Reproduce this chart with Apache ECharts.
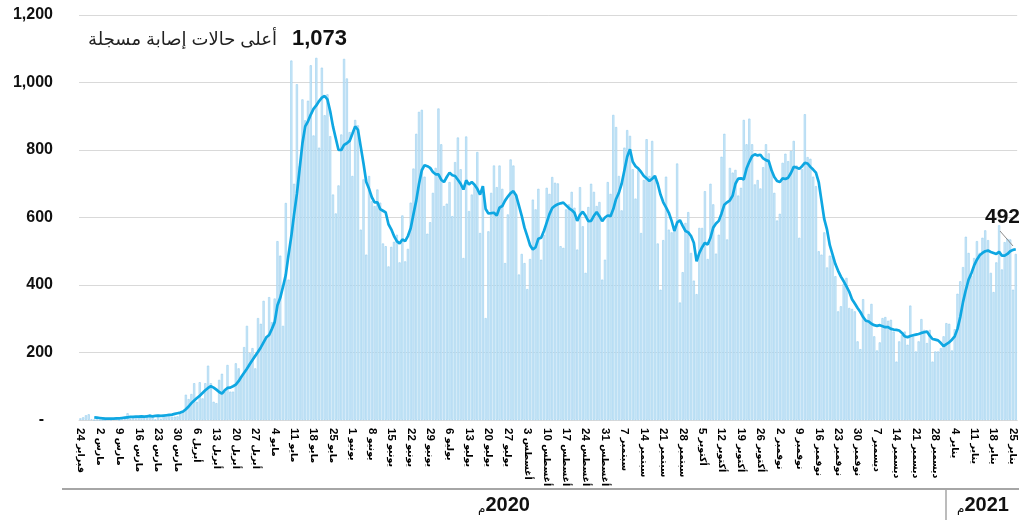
<!DOCTYPE html>
<html>
<head>
<meta charset="utf-8">
<script src="https://cdn.jsdelivr.net/npm/echarts@6.0.0/dist/echarts.min.js"></script>
<style>
html,body{margin:0;padding:0;background:#fff;}
#chart{width:1019px;height:520px;}
</style>
</head>
<body>
<div id="chart"></div>
<script>
// Daily new cases, 24 Feb 2020 - 26 Jan 2021
const dailyCases = [
5, 8, 14, 17, 2, 0, 1,
0, 0, 0, 2, 0, 3, 3,
0, 4, 3, 20, 4, 8, 11,
7, 12, 6, 11, 17, 12, 1,
13, 4, 13, 13, 17, 10, 10,
11, 23, 25, 75, 62, 77, 109,
54, 112, 64, 109, 161, 109, 54,
50, 119, 137, 84, 163, 84, 84,
168, 153, 129, 216, 279, 198, 213,
153, 302, 285, 353, 248, 364, 290,
360, 530, 487, 279, 643, 416, 1065,
700, 995, 752, 950, 888, 946, 1051,
843, 1073, 807, 1044, 903, 965, 841,
668, 612, 695, 846, 1070, 1012, 853,
723, 889, 873, 564, 713, 490, 723,
648, 634, 683, 644, 523, 515, 455,
513, 528, 549, 467, 606, 470, 507,
644, 745, 848, 913, 919, 721, 552,
586, 673, 747, 923, 817, 634, 641,
705, 604, 764, 837, 743, 480, 840,
619, 668, 693, 794, 554, 693, 302,
559, 673, 754, 690, 754, 685, 465,
609, 772, 754, 668, 431, 492, 465,
388, 477, 653, 624, 685, 475, 549,
688, 670, 720, 703, 701, 515, 510,
624, 639, 676, 629, 505, 690, 574,
436, 631, 700, 676, 634, 646, 416,
475, 705, 670, 904, 868, 723, 621,
807, 859, 842, 743, 656, 740, 554,
711, 832, 723, 827, 725, 523, 386,
533, 721, 564, 556, 559, 760, 348,
438, 584, 616, 495, 413, 373, 569,
569, 678, 477, 700, 639, 493, 549,
780, 848, 535, 747, 733, 741, 665,
688, 889, 817, 893, 817, 698, 711,
686, 749, 817, 790, 743, 673, 591,
611, 762, 789, 767, 797, 827, 754,
540, 743, 906, 779, 774, 721, 693,
500, 490, 556, 452, 487, 487, 426,
322, 337, 403, 421, 332, 329, 322,
233, 210, 358, 297, 314, 344, 248,
206, 230, 302, 305, 294, 297, 262,
173, 233, 252, 262, 223, 339, 248,
203, 233, 299, 267, 228, 267, 173,
203, 203, 213, 248, 287, 285, 206,
269, 374, 411, 453, 543, 495, 428,
480, 530, 495, 540, 562, 533, 436,
379, 467, 577, 446, 527, 537, 535,
386, 492
];

// Average line, one value per day
const avgCases = [
null, null, null, null, null,
8, 7, 6, 5, 4, 4, 4, 4, 5, 5, 6, 7, 8, 9, 9, 10, 10, 11, 10, 11, 12, 11, 12, 13, 12, 13, 14, 15, 16, 18,
20, 22, 25, 32, 40, 50, 58, 65, 72, 80, 88, 95, 100, 96, 90, 83, 78, 88, 95, 96, 100, 105, 115, 128, 140,
152, 165, 178, 190, 202, 215, 230, 245,
252, 270, 290, 340, 362, 395, 430, 490, 545, 610, 670, 745, 820, 870, 885, 905, 922, 932, 945, 955,
960, 950, 915, 870, 835, 800, 800, 815, 820, 827, 848, 870, 860, 810, 760, 705, 685, 660, 645, 645,
625, 620, 615, 580, 565, 545, 530, 523, 535, 530, 545, 568, 610, 650, 700, 740, 755, 752, 747, 735,
728, 728,
712, 705, 720, 733, 725, 723, 712, 700, 683, 710, 698, 705, 697, 685, 668, 693, 625, 612, 613, 614,
606, 629, 634, 650, 662, 672, 678, 665, 635, 605, 570, 545, 518, 505, 512, 537, 540, 560, 585, 610,
628, 635, 639, 642, 644, 636, 628, 622, 614, 590, 608, 617, 605, 589, 590, 605, 616, 604, 589,
600, 606, 604, 625, 655, 673, 700, 740, 780, 802, 765, 752, 745, 735, 723, 716, 708, 715, 723, 700,
668, 645, 630, 614, 590, 560, 585, 592, 575, 560, 556, 545, 525, 470, 495, 512, 525, 520, 540, 570,
582, 590, 612, 638, 645, 651, 665, 700, 715, 716, 713, 745, 765, 782, 787, 784, 786, 775, 770, 767,
740, 720, 708, 705, 716, 714, 718, 732, 750, 748, 744, 752, 762, 760, 750, 742, 733, 705, 650, 595,
564, 518, 490, 462, 442, 425, 411, 396, 380, 358, 345, 332, 320, 305, 294, 292, 285, 281, 279, 281,
278, 275, 275, 270, 268, 267, 265, 258, 248, 245, 249, 251, 253, 255, 258, 260, 262, 250, 240,
238, 236, 228, 219, 225, 230, 238, 248, 270, 305, 350, 385, 416, 435, 458, 475, 488, 495, 500, 502,
498, 495, 492, 498, 487, 487, 492, 500, 504, 506
];

// Weekly tick labels (every 7th day)
const tickLabels = ['24 فبراير','2 مارس','9 مارس','16 مارس','23 مارس','30 مارس','6 أبريل','13 أبريل','20 أبريل','27 أبريل','4 مايو','11 مايو','18 مايو','25 مايو','1 يونيو','8 يونيو','15 يونيو','22 يونيو','29 يونيو','6 يوليو','13 يوليو','20 يوليو','27 يوليو','3 أغسطس','10 أغسطس','17 أغسطس','24 أغسطس','31 أغسطس','7 سبتمبر','14 سبتمبر','21 سبتمبر','28 سبتمبر','5 أكتوبر','12 أكتوبر','19 أكتوبر','26 أكتوبر','2 نوفمبر','9 نوفمبر','16 نوفمبر','23 نوفمبر','30 نوفمبر','7 ديسمبر','14 ديسمبر','21 ديسمبر','28 ديسمبر','4 يناير','11 يناير','18 يناير','25 يناير'];

const peakLabel = 'أعلى حالات إصابة مسجلة';
const peakValue = 1073;
const lastValue = 492;
const yearLabels = ['2020', '2021'];

// day categories
const categories = [];
(function(){
  const start = Date.UTC(2020, 1, 24);
  for (let i = 0; i < dailyCases.length; i++) {
    const d = new Date(start + i * 86400000);
    categories.push(d.toISOString().slice(0, 10));
  }
})();

const FONT = "'Liberation Sans', Arial, 'DejaVu Sans', sans-serif";
const chart = echarts.init(document.getElementById('chart'), null, {renderer: 'canvas'});

const option = {
  animation: false,
  backgroundColor: '#ffffff',
  grid: {left: 79, right: 0, top: 15, bottom: 100},
  xAxis: {
    type: 'category',
    data: categories,
    boundaryGap: true,
    axisLine: {show: true, lineStyle: {color: '#d9d9d9', width: 1}},
    axisTick: {show: false},
    axisLabel: {
      interval: function (index) { return index % 7 === 0; },
      rotate: -90,
      margin: 8,
      color: '#000',
      fontFamily: FONT,
      formatter: function (value, index) {
        const t = tickLabels[Math.round(index / 7)] || '';
        const sp = t.indexOf(' ');
        return '{n|' + t.slice(0, sp) + '} {a|' + t.slice(sp + 1) + '}';
      },
      rich: {
        n: {fontSize: 11.5, fontWeight: 'bold', color: '#000', fontFamily: FONT},
        a: {fontSize: 9.5, fontWeight: 'bold', color: '#000', fontFamily: FONT}
      }
    },
    splitLine: {show: false}
  },
  yAxis: {
    type: 'value',
    min: 0,
    max: 1200,
    interval: 200,
    axisLine: {show: false},
    axisTick: {show: false},
    splitLine: {lineStyle: {color: '#d9d9d9', width: 1}},
    axisLabel: {
      margin: 26,
      fontSize: 16,
      fontWeight: 'bold',
      color: '#111',
      fontFamily: FONT,
      formatter: function (v) { return v === 0 ? '-  ' : v.toLocaleString('en-US'); }
    }
  },
  series: [
    {
      type: 'bar',
      data: dailyCases,
      barCategoryGap: '22%',
      itemStyle: {color: '#cfe8f8', borderColor: '#97cfef', borderWidth: 0.6},
      z: 2
    },
    {
      type: 'line',
      data: avgCases,
      symbol: 'none',
      smooth: false,
      connectNulls: false,
      lineStyle: {color: '#0fa7e2', width: 2.7},
      z: 3
    }
  ],
  graphic: [
    {type: 'text', z: 10, style: {text: peakLabel, x: 277, y: 40, align: 'right', textAlign: 'right', verticalAlign: 'middle', textVerticalAlign: 'middle', fontSize: 18, fontFamily: FONT, fill: '#222'}},
    {type: 'text', z: 10, style: {text: peakValue.toLocaleString('en-US'), x: 292, y: 39, align: 'left', textAlign: 'left', verticalAlign: 'middle', textVerticalAlign: 'middle', fontSize: 22, fontWeight: 'bold', fontFamily: FONT, fill: '#111'}},
    {type: 'line', z: 10, shape: {x1: 1000, y1: 231, x2: 1013, y2: 246}, style: {stroke: '#8c8c8c', lineWidth: 1}},
    {type: 'text', z: 10, style: {text: String(lastValue), x: 985, y: 217, align: 'left', textAlign: 'left', verticalAlign: 'middle', textVerticalAlign: 'middle', fontSize: 21, fontWeight: 'bold', fontFamily: FONT, fill: '#111'}},
    {type: 'line', z: 10, shape: {x1: 62, y1: 489, x2: 1019, y2: 489}, style: {stroke: '#a6a6a6', lineWidth: 2}},
    {type: 'line', z: 10, shape: {x1: 946, y1: 489, x2: 946, y2: 520}, style: {stroke: '#a6a6a6', lineWidth: 1.5}},
    {type: 'text', z: 10, style: {text: '{m|م}{y|' + yearLabels[0] + '}', x: 504, y: 505, align: 'center', textAlign: 'center', verticalAlign: 'middle', textVerticalAlign: 'middle',
      rich: {m: {fontSize: 12, fontFamily: FONT, fill: '#111', verticalAlign: 'bottom', padding: [6, 0, 0, 0]}, y: {fontSize: 20, fontWeight: 'bold', fontFamily: FONT, fill: '#111'}}}},
    {type: 'text', z: 10, style: {text: '{m|م}{y|' + yearLabels[1] + '}', x: 983, y: 505, align: 'center', textAlign: 'center', verticalAlign: 'middle', textVerticalAlign: 'middle',
      rich: {m: {fontSize: 12, fontFamily: FONT, fill: '#111', verticalAlign: 'bottom', padding: [6, 0, 0, 0]}, y: {fontSize: 20, fontWeight: 'bold', fontFamily: FONT, fill: '#111'}}}}
  ]
};
chart.setOption(option);
</script>
</body>
</html>
